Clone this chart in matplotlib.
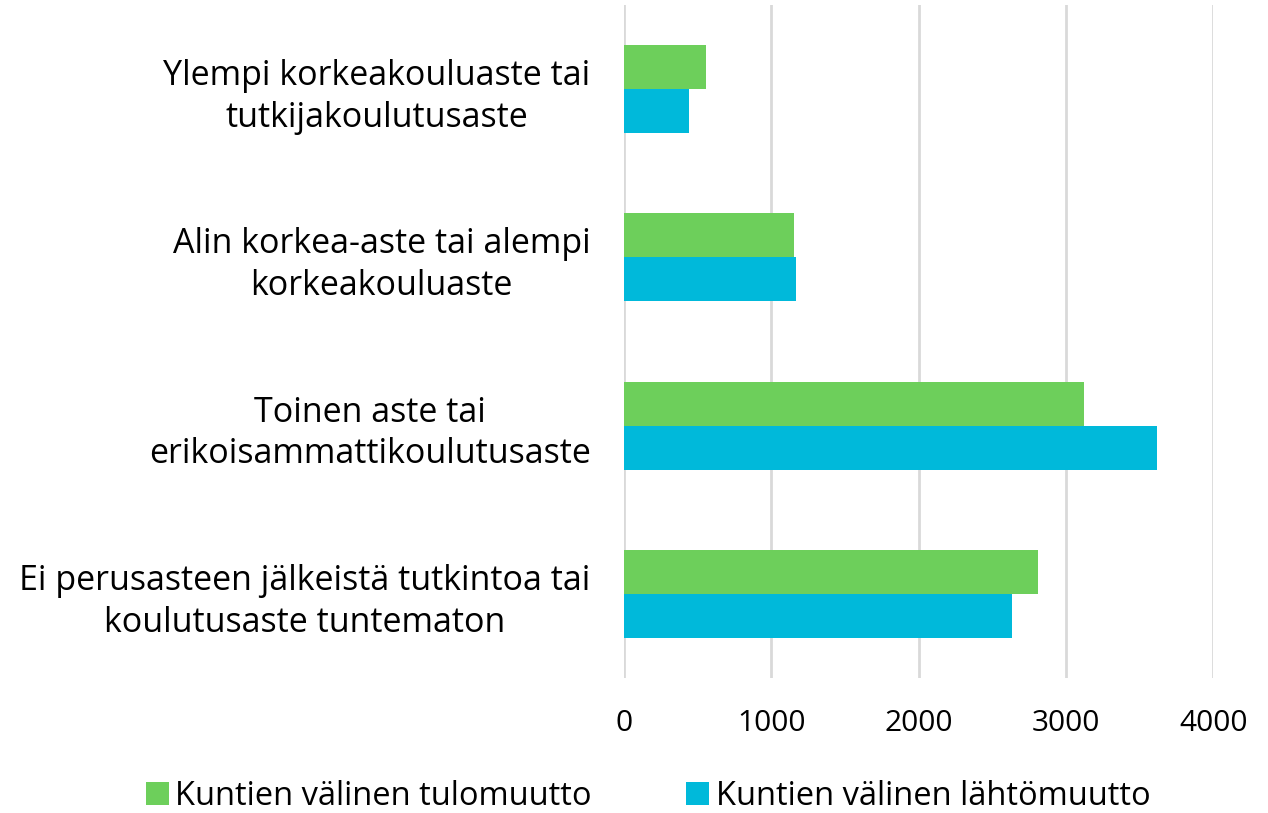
import numpy as np
import matplotlib.pyplot as plt

plt.rcParams['font.family'] = ['Open Sans', 'DejaVu Sans']

categories = ['Ylempi korkeakouluaste tai\ntutkijakoulutusaste',
              'Alin korkea-aste tai alempi\nkorkeakouluaste',
              'Toinen aste tai\nerikoisammattikoulutusaste',
              'Ei perusasteen jälkeistä tutkintoa tai\nkoulutusaste tuntematon']
tulo = [560, 1155, 3125, 2810]
lahto = [440, 1170, 3615, 2635]
series_names = ['Kuntien välinen tulomuutto', 'Kuntien välinen lähtömuutto']
green = '#6DCF5B'
blue = '#00B9DA'

fig = plt.figure(figsize=(12.68, 8.13), dpi=100)
ax = fig.add_axes([0.492, 0.166, 0.465, 0.828])

y = np.arange(len(categories))
h = 0.262
ax.barh(y - h / 2, tulo, height=h, color=green, label=series_names[0], zorder=3)
ax.barh(y + h / 2, lahto, height=h, color=blue, label=series_names[1], zorder=3)

ax.set_ylim(3.5, -0.5)
ax.set_xlim(0, 4000)
ax.set_xticks([0, 1000, 2000, 3000, 4000])
ax.set_yticks(y)
ax.set_yticklabels(categories, ha='right', multialignment='center', fontsize=24.5,
                   linespacing=1.3)
ax.tick_params(axis='y', length=0, pad=24)
ax.tick_params(axis='x', length=0, labelsize=21.5, pad=22)
ax.grid(axis='x', color='#D9D9D9', linewidth=2, zorder=0)
for s in ax.spines.values():
    s.set_visible(False)

leg = fig.legend(loc='lower center', bbox_to_anchor=(0.511, -0.036), ncol=2, frameon=False,
                 fontsize=23.5, handlelength=0.7, handleheight=0.7, handletextpad=0.2,
                 columnspacing=2.9)

plt.savefig('out.png', dpi=100)
